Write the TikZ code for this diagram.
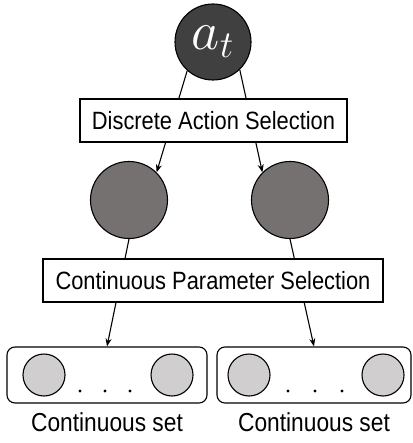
\documentclass[tikz,border=0pt]{standalone}
\usepackage{graphicx}
\usepackage{fontspec}
\setmainfont{Liberation Sans}[FakeStretch=0.875]
\usetikzlibrary{positioning,arrows.meta}

\definecolor{actgray}{HTML}{404040}
\definecolor{choicegray}{HTML}{767171}
\definecolor{paramgray}{HTML}{D0CECE}

\begin{document}
\begin{tikzpicture}[
    x=1pt, y=-1pt,
    action/.style={circle, draw, line width=1.1pt, fill=actgray, text=white, minimum size=76pt, inner sep=0pt},
    choice/.style={circle, draw, line width=1.1pt, fill=choicegray, minimum size=77pt},
    param/.style={circle, draw, line width=1.1pt, fill=paramgray, minimum size=42pt},
    setbox/.style={draw, rounded corners=8pt, line width=1.1pt, minimum height=56pt},
    selbox/.style={draw, fill=white, line width=1.1pt, minimum height=43pt, font=\fontsize{25}{29}\selectfont},
    setlabel/.style={font=\fontsize{26}{30}\selectfont},
    link/.style={draw, line width=1.1pt, -{Stealth[length=8pt,width=6pt]}}
]
\useasboundingbox (0,0) rectangle (412,443);

% Define node positions
\node[action] (act) at (213,42) {\scalebox{2.2}{\fontsize{24}{26}\selectfont $a_t$}};
\node[choice] (optA) at (129,200) {};
\node[choice] (optB) at (290,200) {};

% Continuous sets
\node[setbox, minimum width=200pt] (setA) at (107,375) {};
\node[setbox, minimum width=194pt] (setB) at (314,375) {};
\node[param] (pA1) at (44,375) {};
\node[param] (pA2) at (172,375) {};
\node[param] (pB1) at (249,375) {};
\node[param] (pB2) at (383,375) {};
\foreach \x in {80,105,130,288,315,342}
    \fill (\x,391) circle (1.7pt);

% Connectors (they pass behind the selection boxes)
\draw[link] (act.228) -- (optA.45);
\draw[link] (act.314) -- (optB.135);
\draw[link] (optA.south) -- (setA.north);
\draw[link] (optB.south) -- (setB.north);

% Selection boxes
\node[selbox, minimum width=267pt] (disc) at (213.5,120.5) {Discrete Action Selection};
\node[selbox, minimum width=340pt] (cont) at (213,280.5) {Continuous Parameter Selection};

% Set labels
\node[setlabel, below=6pt of setA] (labA) {Continuous set};
\node[setlabel, below=6pt of setB] (labB) {Continuous set};

\end{tikzpicture}
\end{document}
